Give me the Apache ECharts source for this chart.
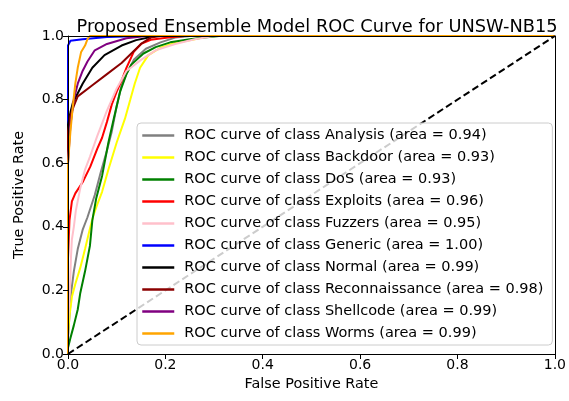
<!DOCTYPE html>
<html><head><meta charset="utf-8">
<script src="https://cdn.jsdelivr.net/npm/echarts@6/dist/echarts.min.js"></script>
<style>html,body{margin:0;padding:0;background:#fff}#c{width:569px;height:401px}</style>
</head><body><div id="c"></div>
<script>
const titleText = 'Proposed Ensemble Model ROC Curve for UNSW-NB15';
const xTicks = [0, 0.2, 0.4, 0.6, 0.8, 1.0];
const classNames = ['Analysis','Backdoor','DoS','Exploits','Fuzzers','Generic','Normal','Reconnaissance','Shellcode','Worms'];
const aucs = ['0.94','0.93','0.93','0.96','0.95','1.00','0.99','0.98','0.99','0.99'];
const colors = ['#808080','#ffff00','#008000','#ff0000','#ffc0cb','#0000ff','#000000','#8b0000','#800080','#ffa500'];

const rocAnalysis = [[0,0],[0,0.05],[0.003,0.12],[0.007,0.2],[0.012,0.26],[0.02,0.33],[0.03,0.39],[0.04,0.43],[0.055,0.5],[0.067,0.57],[0.08,0.64],[0.09,0.7],[0.1,0.78],[0.11,0.845],[0.12,0.88],[0.135,0.925],[0.16,0.96],[0.19,0.98],[0.22,0.995],[0.25,1],[1,1]];
const rocBackdoor = [[0,0],[0,0.06],[0.003,0.12],[0.008,0.18],[0.015,0.22],[0.025,0.27],[0.035,0.33],[0.046,0.4],[0.053,0.44],[0.06,0.47],[0.07,0.51],[0.083,0.58],[0.1,0.665],[0.117,0.74],[0.128,0.8],[0.137,0.85],[0.148,0.9],[0.165,0.94],[0.19,0.963],[0.22,0.978],[0.26,0.99],[0.29,1],[1,1]];
const rocDoS = [[0,0],[0,0.02],[0.005,0.05],[0.012,0.09],[0.02,0.14],[0.025,0.19],[0.035,0.26],[0.045,0.34],[0.05,0.42],[0.058,0.49],[0.07,0.56],[0.083,0.665],[0.094,0.74],[0.107,0.825],[0.12,0.88],[0.13,0.91],[0.155,0.945],[0.18,0.965],[0.21,0.98],[0.25,0.99],[0.28,0.995],[0.31,1],[1,1]];
const rocExploits = [[0,0],[0,0.3],[0.003,0.42],[0.008,0.48],[0.015,0.505],[0.03,0.54],[0.046,0.59],[0.06,0.645],[0.07,0.68],[0.08,0.73],[0.09,0.785],[0.1,0.825],[0.11,0.86],[0.12,0.9],[0.135,0.95],[0.15,0.975],[0.17,0.988],[0.21,0.996],[0.24,1],[1,1]];
const rocFuzzers = [[0,0],[0,0.1],[0.004,0.2],[0.006,0.3],[0.008,0.36],[0.012,0.4],[0.016,0.45],[0.025,0.52],[0.035,0.58],[0.045,0.62],[0.06,0.685],[0.07,0.725],[0.08,0.765],[0.09,0.8],[0.1,0.835],[0.12,0.89],[0.15,0.925],[0.18,0.955],[0.22,0.975],[0.26,0.99],[0.3,1],[1,1]];
const rocGeneric = [[0,0],[0,0.97],[0.005,0.985],[0.03,0.99],[0.08,0.997],[0.15,1],[1,1]];
const rocNormal = [[0,0],[0,0.72],[0.005,0.76],[0.01,0.79],[0.02,0.82],[0.03,0.85],[0.05,0.9],[0.075,0.94],[0.11,0.97],[0.14,0.987],[0.18,1],[1,1]];
const rocReconnaissance = [[0,0],[0,0.7],[0.005,0.75],[0.012,0.78],[0.02,0.81],[0.05,0.845],[0.08,0.88],[0.11,0.915],[0.13,0.945],[0.15,0.975],[0.17,0.995],[0.19,1],[1,1]];
const rocShellcode = [[0,0],[0,0.6],[0.005,0.72],[0.012,0.8],[0.02,0.85],[0.03,0.89],[0.04,0.92],[0.055,0.955],[0.08,0.975],[0.12,0.993],[0.16,1],[1,1]];
const rocWorms = [[0,0],[0,0.6],[0.005,0.7],[0.01,0.78],[0.015,0.85],[0.02,0.9],[0.027,0.95],[0.035,0.97],[0.04,0.99],[0.045,1],[1,1]];
const diagonal = [[0,0],[1,1]];

const curves = [rocAnalysis,rocBackdoor,rocDoS,rocExploits,rocFuzzers,rocGeneric,rocNormal,rocReconnaissance,rocShellcode,rocWorms];
const FONT = 'DejaVu Sans';

const series = classNames.map((n,i)=>({
  name: 'ROC curve of class ' + n + ' (area = ' + aucs[i] + ')',
  type: 'line', data: curves[i], symbol: 'none', showSymbol: false,
  lineStyle: {color: colors[i], width: 2}, itemStyle: {color: colors[i]},
  z: 2, animation: false
}));
series.push({name: 'diag', type: 'line', data: diagonal, symbol: 'none',
  lineStyle: {color: '#000', width: 2, type: [7, 3.5]}, z: 3, animation: false});

const axisCommon = {
  type: 'value', min: 0, max: 1, interval: 0.2,
  splitLine: {show: false},
  axisLine: {show: true, onZero: false, lineStyle: {color: '#000', width: 1}},
  axisTick: {show: true, inside: false, length: 5, lineStyle: {color: '#000', width: 1}},
  axisLabel: {color: '#000', fontFamily: FONT, fontSize: 14, margin: 4, formatter: v => v.toFixed(1)},
  nameTextStyle: {color: '#000', fontFamily: FONT, fontSize: 14.4},
  z: 10
};

const chart = echarts.init(document.getElementById('c'), null, {renderer: 'canvas'});
chart.setOption({
  backgroundColor: '#fff',
  animation: false,
  title: {text: titleText, left: 312, textAlign: 'center', top: 13,
    textStyle: {fontFamily: FONT, fontSize: 17.8, fontWeight: 'normal', color: '#000'}},
  grid: {left: 68, right: 13, top: 36, bottom: 47, containLabel: false},
  xAxis: [
    Object.assign({}, axisCommon, {position: 'bottom', name: 'False Positive Rate', nameLocation: 'middle', nameGap: 21}),
    Object.assign({}, axisCommon, {position: 'top', axisTick: {show: false}, axisLabel: {show: false}})
  ],
  yAxis: [
    Object.assign({}, axisCommon, {position: 'left', name: 'True Positive Rate', nameLocation: 'middle', nameGap: 42}),
    Object.assign({}, axisCommon, {position: 'right', axisTick: {show: false}, axisLabel: {show: false}})
  ],
  legend: {
    data: series.slice(0, 10).map(s => s.name),
    orient: 'vertical', left: 137, top: 123,
    padding: [5, 9, 4, 4], itemGap: 7, itemWidth: 32, itemHeight: 14,
    backgroundColor: 'rgba(255,255,255,0.8)', borderColor: '#cccccc', borderWidth: 1, borderRadius: 4,
    selectedMode: false,
    itemStyle: {opacity: 0},
    lineStyle: {width: 2.5},
    textStyle: {fontFamily: FONT, fontSize: 14.5, lineHeight: 14, color: '#000', padding: [0, 0, 0, 5]}
  },
  series: series
});
</script></body></html>
